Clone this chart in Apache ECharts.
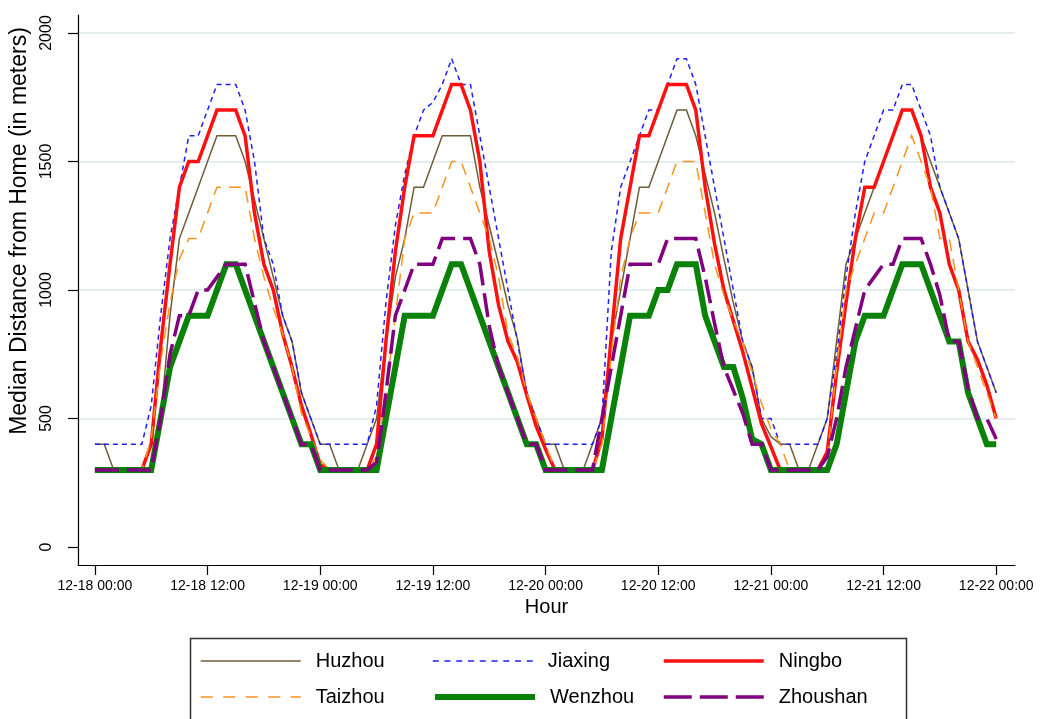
<!DOCTYPE html>
<html>
<head>
<meta charset="utf-8">
<script src="https://cdn.jsdelivr.net/npm/echarts@6/dist/echarts.min.js"></script>
<style>html,body{margin:0;padding:0;background:#fff}#c{width:1057px;height:719px}</style>
</head>
<body>
<div id="c"></div>
<script>
// ---------- data ----------
const xTickHours = [0, 12, 24, 36, 48, 60, 72, 84, 96];
const xTickLabels = ['12-18 00:00', '12-18 12:00', '12-19 00:00', '12-19 12:00', '12-20 00:00',
                     '12-20 12:00', '12-21 00:00', '12-21 12:00', '12-22 00:00'];
const yTicks = [0, 500, 1000, 1500, 2000];
const yGridValues = [500, 1000, 1500, 2000];
const cities = ['Huzhou', 'Jiaxing', 'Ningbo', 'Taizhou', 'Wenzhou', 'Zhoushan'];

const huzhou = [
  400,400,300,300,300,300,300,500,900,1200,1300,1400,1500,1600,1600,1600,1500,1350,1200,1050,900,800,600,500,400,
  400,300,300,300,400,500,800,1050,1200,1400,1400,1500,1600,1600,1600,1600,1400,1250,1100,940,810,600,500,400,
  400,300,300,300,400,500,800,1000,1200,1400,1400,1500,1600,1700,1700,1600,1450,1300,1120,950,800,700,500,430,
  400,400,300,300,400,500,800,1100,1200,1300,1400,1500,1600,1700,1700,1600,1500,1400,1300,1200,1000,800,700,600
];
const jiaxing = [
  400,400,400,400,400,400,550,900,1200,1400,1600,1600,1700,1800,1800,1800,1700,1500,1200,1100,900,800,600,500,400,
  400,400,400,400,400,550,950,1250,1450,1600,1700,1730,1800,1900,1800,1800,1600,1400,1200,1000,800,600,500,400,
  400,400,400,400,400,500,1150,1400,1500,1600,1700,1700,1800,1900,1900,1800,1600,1400,1200,1000,800,700,500,500,
  400,400,400,400,400,500,750,1050,1300,1500,1600,1700,1700,1800,1800,1700,1600,1400,1300,1200,1000,800,700,600
];
const ningbo = [
  300,300,300,300,300,300,400,780,1100,1400,1500,1500,1600,1700,1700,1700,1600,1300,1100,1000,830,700,550,440,320,
  300,300,300,300,300,400,800,1150,1400,1600,1600,1600,1700,1800,1800,1700,1500,1150,940,800,720,590,470,380,
  300,300,300,300,300,420,820,1200,1400,1600,1600,1700,1800,1800,1800,1700,1400,1180,1000,880,760,620,480,390,
  300,300,300,300,300,370,680,950,1200,1400,1400,1500,1600,1700,1700,1600,1400,1300,1100,1000,800,730,630,500
];
const taizhou = [
  300,300,300,300,300,300,420,720,950,1120,1200,1200,1300,1400,1400,1400,1400,1200,1050,930,830,700,520,430,340,
  300,300,300,300,300,350,600,900,1200,1300,1300,1300,1400,1500,1500,1400,1300,1200,1050,830,740,600,500,400,
  300,300,300,300,300,400,750,1050,1200,1300,1300,1300,1400,1500,1500,1500,1300,1100,980,880,800,680,560,460,
  400,300,300,300,300,350,700,1000,1100,1200,1300,1300,1400,1500,1600,1500,1400,1200,1200,1000,800,700,600,500
];
const wenzhou = [
  300,300,300,300,300,300,300,500,700,800,900,900,900,1000,1100,1100,1000,900,800,700,600,500,400,400,300,
  300,300,300,300,300,300,500,700,900,900,900,900,1000,1100,1100,1000,900,800,700,600,500,400,400,300,
  300,300,300,300,300,300,500,700,900,900,900,1000,1000,1100,1100,1100,900,800,700,700,580,420,400,300,
  300,300,300,300,300,300,400,600,800,900,900,900,1000,1100,1100,1100,1000,900,800,800,600,500,400,400
];
const zhoushan = [
  300,300,300,300,300,300,300,500,750,900,900,1000,1000,1050,1100,1100,1100,950,800,700,600,500,400,400,300,
  300,300,300,300,300,330,600,900,1000,1100,1100,1100,1200,1200,1200,1200,1100,860,700,600,500,400,400,300,
  300,300,300,300,300,500,700,900,1100,1100,1100,1100,1200,1200,1200,1200,1050,870,700,610,520,400,400,300,
  300,300,300,300,300,350,500,700,850,1000,1050,1100,1100,1200,1200,1200,1100,980,800,800,620,500,500,420
];
const seriesValues = [huzhou, jiaxing, ningbo, taizhou, wenzhou, zhoushan];

// ---------- styles ----------
const FONT = '"Liberation Sans", Arial, Helvetica, sans-serif';
const lineStyles = [
  { color: '#6e5c36', width: 1.5, type: 'solid', legendType: 'solid' },
  { color: '#1f1ff5', width: 1.5, type: [5, 4], legendType: [6, 5.75] },
  { color: '#ff1010', width: 3.5, type: 'solid', legendType: 'solid' },
  { color: '#f7931e', width: 1.5, type: [12, 8], legendType: [12, 10.5] },
  { color: '#0a820a', width: 6, type: 'solid', legendType: 'solid' },
  { color: '#800080', width: 3.5, type: [24, 8], legendType: [28, 8] }
];
const legendPos = [[200, 651], [432, 651], [662, 651], [200, 687], [432, 687], [662, 687]];

const chart = echarts.init(document.getElementById('c'), null, { renderer: 'canvas' });
const hourIndex = huzhou.map((_, i) => i);

const option = {
  animation: false,
  backgroundColor: '#ffffff',
  textStyle: { fontFamily: FONT },
  grid: { left: 78, right: 42, top: 15, bottom: 154, containLabel: false, outerBoundsMode: 'none' },
  xAxis: {
    type: 'value',
    min: -1.8,
    max: 98,
    name: 'Hour',
    nameLocation: 'middle',
    nameGap: 31,
    nameTextStyle: { fontSize: 20, color: '#000', fontFamily: FONT },
    axisLine: { show: true, onZero: false, lineStyle: { color: '#000', width: 1.2 } },
    axisTick: { show: true, length: 10, customValues: xTickHours, lineStyle: { color: '#000', width: 1.2 } },
    axisLabel: {
      customValues: xTickHours,
      fontSize: 14, color: '#000', fontFamily: FONT, margin: 14,
      formatter: v => xTickLabels[xTickHours.indexOf(Math.round(v))]
    },
    splitLine: { show: false }
  },
  yAxis: [{
    type: 'value',
    min: -70,
    max: 2070,
    name: 'Median Distance from Home (in meters)',
    nameLocation: 'middle',
    nameRotate: 90,
    nameGap: 41,
    nameTextStyle: { fontSize: 23, color: '#000', fontFamily: FONT, padding: [0, 0, 0, 118] },
    axisLine: { show: true, onZero: false, lineStyle: { color: '#000', width: 1.2 } },
    axisTick: { show: true, length: 10, customValues: yTicks, lineStyle: { color: '#000', width: 1.2 } },
    axisLabel: { customValues: yTicks, rotate: 90, fontSize: 16, color: '#000', fontFamily: FONT, margin: 23,
                 formatter: v => String(v) },
    splitLine: { show: false }
  }, {
    type: 'value',
    min: -70,
    max: 2070,
    position: 'left',
    axisLine: { show: false },
    axisTick: { show: false, customValues: yGridValues },
    axisLabel: { show: false, customValues: yGridValues },
    splitLine: { show: true, lineStyle: { color: '#e4eeee', width: 2 } },
    z: 0
  }],
  legend: cities.map((name, k) => ({
    data: [name],
    left: legendPos[k][0],
    top: legendPos[k][1],
    padding: 0,
    itemWidth: 100,
    itemHeight: 20,
    selectedMode: false,
    itemStyle: { opacity: 0 },
    lineStyle: { width: lineStyles[k].width, type: lineStyles[k].legendType, color: lineStyles[k].color, cap: 'butt' },
    textStyle: { fontSize: 20, color: '#000', fontFamily: FONT, padding: [0, 0, 0, 10] }
  })),
  graphic: [{
    type: 'rect', left: 188, top: 636, silent: true,
    shape: { width: 716, height: 100 },
    style: { fill: 'none', stroke: '#333', lineWidth: 1.5 }
  }],
  series: cities.map((name, k) => ({
    name,
    type: 'line',
    yAxisIndex: 0,
    data: hourIndex.map((h, i) => [h, seriesValues[k][i]]),
    symbol: 'none',
    showSymbol: false,
    emphasis: { disabled: true },
    itemStyle: { color: lineStyles[k].color },
    lineStyle: { color: lineStyles[k].color, width: lineStyles[k].width, type: lineStyles[k].type, cap: 'butt', join: 'miter' }
  }))
};
chart.setOption(option);
</script>
</body>
</html>
